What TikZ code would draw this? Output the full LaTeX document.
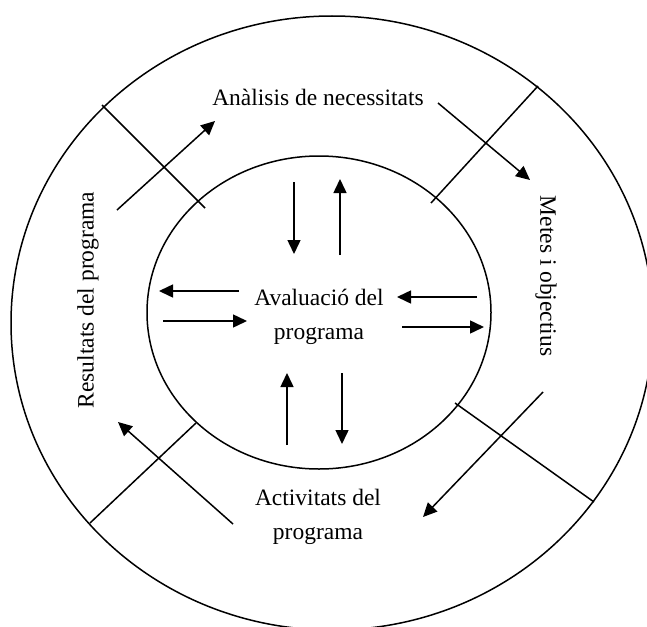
\documentclass[tikz,border=0pt]{standalone}
\usepackage{fontspec}
\setmainfont{Liberation Serif}
\usetikzlibrary{arrows.meta}
\begin{document}
\begin{tikzpicture}[x=1pt,y=-1pt,
  line width=1.5pt,
  lbl/.style={font=\fontsize{23.5}{34}\selectfont, align=center, inner sep=0pt},
  flow/.style={-{Triangle[length=14pt,width=13pt]}},
  divider/.style={line width=1.5pt}]
\useasboundingbox (0,0) rectangle (647,626);
\clip (0,0) rectangle (647,626);

% rings
\draw (332,323) ellipse [x radius=321, y radius=307];
\draw (319,312.5) ellipse [x radius=172, y radius=156.5];

% labels
\node[lbl] (needs) at (318,97) {Anàlisis de necessitats};
\node[lbl, rotate=-90] (goals) at (546,276) {Metes i objectius};
\node[lbl] (acts) at (318,517) {Activitats del\\programa};
\node[lbl, rotate=90] (results) at (88,300) {Resultats del programa};
\node[lbl] (eval) at (319,317) {Avaluació del\\programa};

% dividers between the sectors of the outer ring
\coordinate (d1a) at (102,105); \coordinate (d1b) at (205,208);
\coordinate (d2a) at (538,86);  \coordinate (d2b) at (431,203);
\coordinate (d3a) at (455,403); \coordinate (d3b) at (594,502);
\coordinate (d4a) at (196,423); \coordinate (d4b) at (90,523);
\draw[divider] (d1a) -- (d1b);
\draw[divider] (d2a) -- (d2b);
\draw[divider] (d3a) -- (d3b);
\draw[divider] (d4a) -- (d4b);

% cycle around the outer ring
\coordinate (c1s) at (438,103); \coordinate (c1e) at (530,180);
\coordinate (c2s) at (543,392); \coordinate (c2e) at (423,517);
\coordinate (c3s) at (233,524); \coordinate (c3e) at (118,422);
\coordinate (c4s) at (117,210); \coordinate (c4e) at (215,121);
\draw[flow] (c1s) -- (c1e);
\draw[flow] (c2s) -- (c2e);
\draw[flow] (c3s) -- (c3e);
\draw[flow] (c4s) -- (c4e);

% exchanges with the evaluation core
\coordinate (t1s) at (294,182); \coordinate (t1e) at (294,254);
\coordinate (t2s) at (340,255); \coordinate (t2e) at (340,179);
\coordinate (r1s) at (477,297); \coordinate (r1e) at (397,297);
\coordinate (r2s) at (402,327); \coordinate (r2e) at (484,327);
\coordinate (b1s) at (287,445); \coordinate (b1e) at (287,373);
\coordinate (b2s) at (342,373); \coordinate (b2e) at (342,444);
\coordinate (l1s) at (239,291); \coordinate (l1e) at (159,291);
\coordinate (l2s) at (163,321); \coordinate (l2e) at (247,321);
\draw[flow] (t1s) -- (t1e);
\draw[flow] (t2s) -- (t2e);
\draw[flow] (r1s) -- (r1e);
\draw[flow] (r2s) -- (r2e);
\draw[flow] (b1s) -- (b1e);
\draw[flow] (b2s) -- (b2e);
\draw[flow] (l1s) -- (l1e);
\draw[flow] (l2s) -- (l2e);
\end{tikzpicture}
\end{document}
